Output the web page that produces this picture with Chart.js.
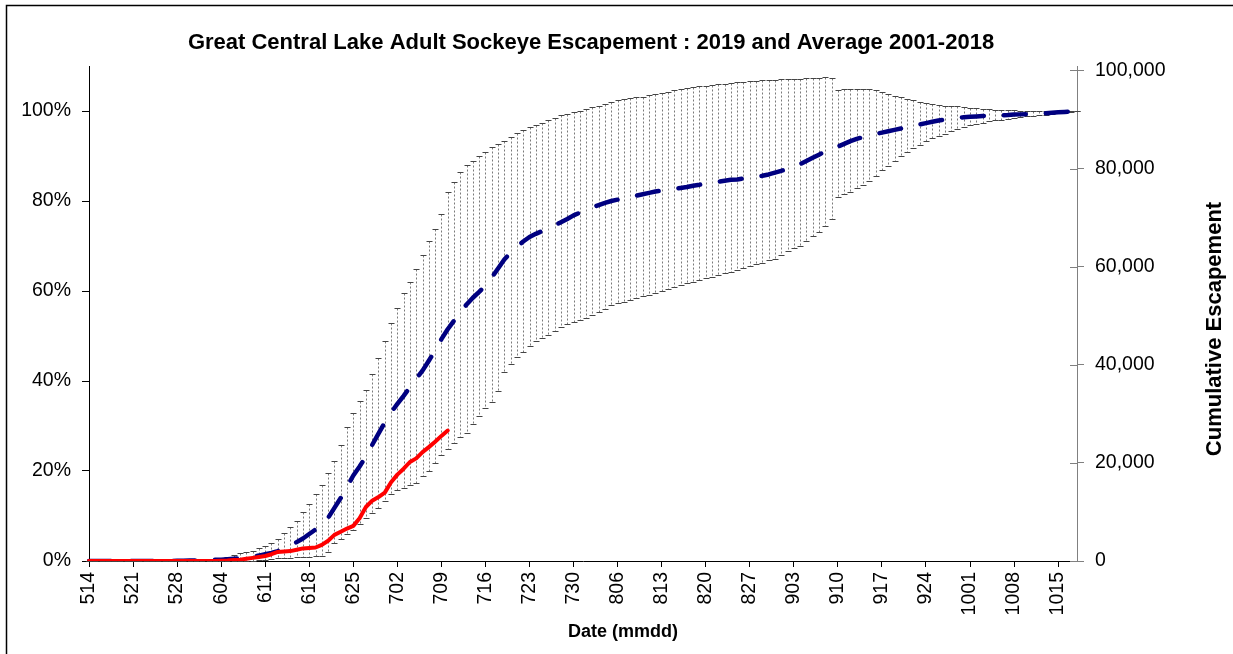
<!DOCTYPE html>
<html>
<head>
<meta charset="utf-8">
<script src="https://cdn.jsdelivr.net/npm/chart.js@4.4.1/dist/chart.umd.min.js"></script>
<style>
html,body{margin:0;padding:0;background:#fff;}
#wrap{width:1233px;height:654px;position:relative;overflow:hidden;}
canvas{display:block;}
</style>
</head>
<body>
<div id="wrap"><canvas id="c" width="1233" height="654"></canvas></div>
<script>
// ---------------- DATA ----------------
const dates = [
 '514','515','516','517','518','519','520','521','522','523','524','525','526','527','528','529','530','531',
 '601','602','603','604','605','606','607','608','609','610','611','612','613','614','615','616','617','618','619','620',
 '621','622','623','624','625','626','627','628','629','630',
 '701','702','703','704','705','706','707','708','709','710','711','712','713','714','715','716','717','718','719','720',
 '721','722','723','724','725','726','727','728','729','730','731',
 '801','802','803','804','805','806','807','808','809','810','811','812','813','814','815','816','817','818','819','820',
 '821','822','823','824','825','826','827','828','829','830','831',
 '901','902','903','904','905','906','907','908','909','910','911','912','913','914','915','916','917','918','919','920',
 '921','922','923','924','925','926','927','928','929','930',
 '1001','1002','1003','1004','1005','1006','1007','1008','1009','1010','1011','1012','1013','1014','1015','1016','1017','1018'
];

const xTickLabels = ['514','521','528','604','611','618','625','702','709','716','723','730',
 '806','813','820','827','903','910','917','924','1001','1008','1015'];

const leftTicks = [0, 20, 40, 60, 80, 100];
const rightTicks = [0, 20000, 40000, 60000, 80000, 100000];

// Average 2001-2018 cumulative % of run
const avgPct = [
 0,0,0,0,0,0,0,0,0,0,0,0,0,0,
 0.05,0.05,0.1,0.1,0.15,0.2,0.25,0.3,0.4,0.5,0.6,0.8,1.0,1.2,1.5,1.8,
 2.2,2.7,3.4,4.2,5.0,6.0,7.0,8.0,9.6,11.8,14.0,16.5,19.0,21.0,23.2,25.8,28.3,30.8,
 33.0,34.9,36.7,38.6,40.5,42.3,44.5,46.8,49.3,51.5,53.4,55.3,57.0,58.5,59.8,61.2,
 63.0,65.0,67.0,68.5,69.8,71.0,72.0,72.7,73.3,74.0,74.6,75.3,76.0,76.8,77.4,
 78.0,78.6,79.1,79.6,80.0,80.3,80.6,80.9,81.2,81.5,81.8,82.1,82.3,82.5,82.7,82.9,
 83.1,83.4,83.6,83.9,84.1,84.3,84.5,84.7,84.8,85.0,85.2,85.4,85.6,85.9,86.3,
 86.7,87.1,87.6,88.2,88.9,89.6,90.3,91.0,91.6,92.1,92.7,93.3,93.8,94.2,94.6,
 94.9,95.2,95.5,95.8,96.1,96.4,96.7,97.0,97.3,97.6,97.9,98.1,98.3,98.5,98.6,
 98.7,98.8,98.9,98.95,99.0,99.05,99.1,99.2,99.25,99.3,99.4,99.45,99.5,99.6,99.7,99.8,99.9,100
];

// upper end of the range bars (%)
const upperPct = [
 0,0,0,0,0,0,0,0,0,0,0,0,0,0,
 0.1,0.1,0.2,0.2,0.3,0.4,0.5,0.7,1.0,1.4,1.8,2.1,2.3,2.8,3.3,4.0,
 5.0,6.3,7.5,9.0,10.8,12.6,14.8,17.0,19.5,22.3,25.7,29.7,33.0,35.5,38.0,41.5,45.0,49.0,
 52.8,56.3,59.5,62.0,64.8,68.0,71.2,73.8,77.2,82.0,84.2,86.5,87.9,89.0,90.1,90.8,
 92.0,92.7,93.4,94.3,95.1,95.7,96.4,96.8,97.3,97.9,98.5,99.0,99.4,99.7,100.1,
 100.5,100.8,101.2,101.6,102.0,102.4,102.6,102.8,103.0,103.2,103.5,103.8,104.0,104.3,104.6,104.9,
 105.1,105.3,105.5,105.6,105.8,105.9,106.1,106.2,106.4,106.5,106.6,106.7,106.8,106.9,106.9,
 107.0,107.1,107.2,107.2,107.3,107.3,107.4,107.5,107.3,104.7,104.8,104.9,104.9,104.9,104.8,
 104.6,104.2,103.8,103.4,103.0,102.7,102.4,102.1,101.8,101.6,101.4,101.2,101.1,101.0,100.8,
 100.7,100.6,100.5,100.4,100.3,100.3,100.2,100.2,100.1,100.1,100.1,100.1,100.0,100.0,100.0,100.0,100.0,100.0
];

// lower end of the range bars (%)
const lowerPct = [
 0,0,0,0,0,0,0,0,0,0,0,0,0,0,
 0,0,0,0,0,0,0,0,0,0,0,0.1,0.1,0.2,0.3,0.4,
 0.6,0.7,0.7,0.8,0.9,1.0,1.1,1.2,2.0,4.0,5.0,6.0,7.0,8.3,9.5,10.7,11.8,13.3,
 14.8,15.7,16.3,16.8,17.3,19.0,20.0,21.7,23.5,24.8,26.3,27.5,28.5,30.5,32.3,34.0,
 35.3,37.8,42.0,43.8,45.3,46.4,47.8,48.8,49.5,50.2,51.2,52.0,52.6,53.1,53.6,
 54.1,54.6,55.3,56.0,56.8,57.3,57.6,58.0,58.4,58.8,59.2,59.6,60.0,60.4,60.8,61.3,
 61.7,62.1,62.5,62.9,63.2,63.6,64.0,64.3,64.7,65.1,65.5,65.9,66.3,66.8,67.2,
 68.0,68.8,69.5,70.0,71.0,72.2,73.2,74.5,76.0,81.0,81.5,82.0,82.8,83.5,84.5,
 85.5,86.8,87.8,88.9,90.0,90.9,91.7,92.5,93.3,93.9,94.4,94.9,95.5,96.0,96.4,
 96.8,97.1,97.4,97.7,97.9,98.1,98.3,98.5,98.7,98.8,98.9,99.1,99.2,99.3,99.5,99.6,99.8,100.0
];

// 2019 cumulative escapement (fish), 514 .. 710
const esc2019 = [
 0,0,0,0,0,0,0,0,0,0,0,0,0,0,0,0,0,0,0,0,
 20,50,100,180,280,450,640,830,1010,1380,1840,1930,2020,2290,2570,2660,2750,3300,4130,5320,
 5960,6610,7160,8720,11010,12290,13030,13940,16050,17610,18810,20180,20920,22200,23210,24310,25500,26600
];

// ---------------- CHART ----------------
const FONT = "'Liberation Sans', Arial, Helvetica, sans-serif";
Chart.defaults.font.family = FONT;
Chart.defaults.color = '#000';

const errorBars = {
  id: 'errorBars',
  beforeDatasetsDraw(chart) {
    const {ctx, scales: {x, y}} = chart;
    ctx.save();
    for (let i = 0; i < dates.length; i++) {
      const px = Math.round(x.getPixelForValue(i)) + 0.5;
      const yu = Math.round(y.getPixelForValue(upperPct[i])) + 0.5;
      const yl = Math.round(y.getPixelForValue(lowerPct[i])) + 0.5;
      ctx.lineWidth = 1;
      ctx.strokeStyle = '#7a7a7a';
      ctx.setLineDash([2, 2]);
      ctx.beginPath(); ctx.moveTo(px, yu); ctx.lineTo(px, yl); ctx.stroke();
      ctx.setLineDash([]);
      ctx.strokeStyle = '#444';
      ctx.beginPath();
      ctx.moveTo(px - 3, yu); ctx.lineTo(px + 3, yu);
      ctx.moveTo(px - 3, yl); ctx.lineTo(px + 3, yl);
      ctx.stroke();
    }
    ctx.restore();
  }
};

const decor = {
  id: 'decor',
  afterDraw(chart) {
    const {ctx, chartArea, scales: {y1}} = chart;
    ctx.save();
    // outer frame (top and left)
    ctx.strokeStyle = '#000';
    ctx.lineWidth = 1.5;
    ctx.beginPath();
    ctx.moveTo(6.5, 660); ctx.lineTo(6.5, 5.5); ctx.lineTo(1240, 5.5);
    ctx.stroke();
    // inner half of the crossing ticks of the right axis
    ctx.strokeStyle = '#808080';
    ctx.lineWidth = 1;
    y1.ticks.forEach(t => {
      const py = Math.round(y1.getPixelForValue(t.value)) + 0.5;
      ctx.beginPath(); ctx.moveTo(chartArea.right - 7, py); ctx.lineTo(chartArea.right, py); ctx.stroke();
    });
    // axis titles
    ctx.fillStyle = '#000';
    ctx.textAlign = 'center';
    ctx.textBaseline = 'middle';
    ctx.font = 'bold 18px ' + FONT;
    ctx.fillText('Date (mmdd)', 623, 632);
    ctx.translate(1215, 329);
    ctx.rotate(-Math.PI / 2);
    ctx.font = 'bold 22px ' + FONT;
    ctx.fillText('Cumulative Escapement', 0, 0);
    ctx.restore();
  }
};

new Chart(document.getElementById('c'), {
  type: 'line',
  data: {
    labels: dates,
    datasets: [
      {
        label: '2019',
        data: esc2019,
        yAxisID: 'y1',
        borderColor: '#ff0000',
        borderWidth: 4,
        borderCapStyle: 'round',
        borderJoinStyle: 'round',
        pointRadius: 0,
        fill: false,
        tension: 0
      },
      {
        label: 'Average 2001-2018',
        data: avgPct,
        yAxisID: 'y',
        borderColor: '#000080',
        borderWidth: 4.5,
        borderDash: [22, 20],
        borderCapStyle: 'round',
        borderJoinStyle: 'round',
        pointRadius: 0,
        fill: false,
        tension: 0
      }
    ]
  },
  options: {
    responsive: false,
    animation: false,
    devicePixelRatio: 1,
    layout: { padding: { left: 0, right: 51, top: 0, bottom: 0 } },
    plugins: {
      legend: { display: false },
      tooltip: { enabled: false },
      title: {
        display: true,
        text: 'Great Central Lake Adult Sockeye Escapement : 2019 and Average 2001-2018',
        font: { size: 22, weight: 'bold', family: FONT },
        color: '#000',
        padding: { top: 30, bottom: 9.6 }
      }
    },
    scales: {
      x: {
        type: 'category',
        offset: false,
        grid: { display: true, drawOnChartArea: false, drawTicks: true, tickLength: 6, color: '#000', lineWidth: 1 },
        border: { display: true, color: '#000', width: 1 },
        ticks: { autoSkip: false, minRotation: 90, maxRotation: 90, padding: 5, color: '#000', font: { size: 19.5 } },
        afterBuildTicks: s => { s.ticks = s.ticks.filter(t => xTickLabels.includes(dates[t.value])); },
        afterFit: s => { s.height = 93; }
      },
      y: {
        position: 'left',
        min: 0,
        max: 110,
        grid: { display: true, drawOnChartArea: false, drawTicks: true, tickLength: 7, color: '#000' },
        border: { display: true, color: '#000', width: 1 },
        ticks: { padding: 11, color: '#000', font: { size: 19.5 }, callback: v => v + '%' },
        afterBuildTicks: s => { s.ticks = leftTicks.map(v => ({ value: v })); },
        afterFit: s => { s.width = 89; }
      },
      y1: {
        position: 'right',
        min: 0,
        max: 100900,
        grid: { display: true, drawOnChartArea: false, drawTicks: true, tickLength: 7, color: '#808080' },
        border: { display: true, color: '#808080', width: 1 },
        ticks: { padding: 11, color: '#000', font: { size: 19.5 }, callback: v => Number(v).toLocaleString('en-US') },
        afterBuildTicks: s => { s.ticks = rightTicks.map(v => ({ value: v })); },
        afterFit: s => { s.width = 105; }
      }
    }
  },
  plugins: [errorBars, decor]
});
</script>
</body>
</html>
